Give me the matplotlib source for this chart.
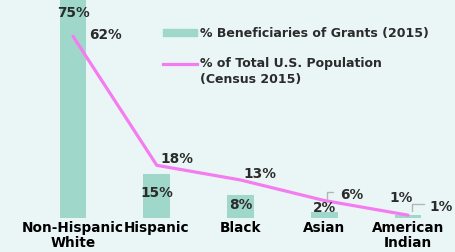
import matplotlib.pyplot as plt
from matplotlib.patches import Rectangle
from matplotlib.lines import Line2D

groups = ["Non-Hispanic\nWhite", "Hispanic", "Black", "Asian", "American\nIndian"]
grants = [75, 15, 8, 2, 1]
census = [62, 18, 13, 6, 1]

BG = "#e9f6f5"
BAR = "#9fd8cb"
LINE = "#f57cf0"
TXT = "#2b2b2b"

W, H = 455, 253
fig = plt.figure(figsize=(W / 100, H / 100), dpi=100, facecolor=BG)
ax = fig.add_axes([0, 0.134, 1, 0.866], facecolor=BG)

x = list(range(len(groups)))
ax.bar(x, grants, width=0.32, color=BAR, zorder=1)
ax.plot(x, census, color=LINE, lw=2.3, solid_capstyle="round", zorder=2)

ax.set_xlim(-0.872, 4.561)
ax.set_ylim(0, 74.7)
for s in ax.spines.values():
  s.set_visible(False)
ax.set_yticks([])
ax.set_xticks(x)
ax.set_xticklabels(groups, fontsize=9.8, fontweight="bold", color="black", linespacing=1.05)
ax.tick_params(axis="x", length=0, pad=1.5)

lab = dict(fontsize=9.8, fontweight="bold", color=TXT, ha="center", va="center", zorder=3)
grant_pos = [(0, 70.3), (1, 8.9), (2, 4.8), (3, 3.7), (3.92, 7.2)]
for (px, py), v in zip(grant_pos, grants):
  ax.text(px, py, f"{v}%", **lab)
census_pos = [(0.39, 62.8), (1.24, 20.5), (2.23, 15.3), (3.33, 8.2), (4.4, 4.1)]
for (px, py), v in zip(census_pos, census):
  ax.text(px, py, f"{v}%", **lab)

# leader lines for the small census labels
ax.annotate("", xy=(3.03, 5.6), xytext=(3.14, 9.0),
            arrowprops=dict(arrowstyle="-", color="#b5b5b5", lw=1,
                            connectionstyle="angle,angleA=0,angleB=90,rad=0"))
ax.annotate("", xy=(4.05, 1.6), xytext=(4.22, 4.7),
            arrowprops=dict(arrowstyle="-", color="#b5b5b5", lw=1,
                            connectionstyle="angle,angleA=0,angleB=90,rad=0"))

# legend, drawn by hand so the line handle sits on the first text line
ft = fig.transFigure
fig.patches.append(Rectangle((163 / W, 1 - 36.5 / H), 34 / W, 7 / H,
                             transform=ft, color=BAR, figure=fig))
fig.lines.append(Line2D([163 / W, 197 / W], [1 - 65 / H, 1 - 65 / H],
                        transform=ft, color=LINE, lw=2.3, figure=fig))
leg = dict(fontsize=9, fontweight="bold", color=TXT, ha="left")
fig.text(200 / W, 1 - 33 / H, "% Beneficiaries of Grants (2015)", va="center", **leg)
fig.text(200 / W, 1 - 57 / H, "% of Total U.S. Population\n(Census 2015)",
         va="top", linespacing=1.25, **leg)

fig.savefig("out.png", dpi=100, facecolor=BG)
